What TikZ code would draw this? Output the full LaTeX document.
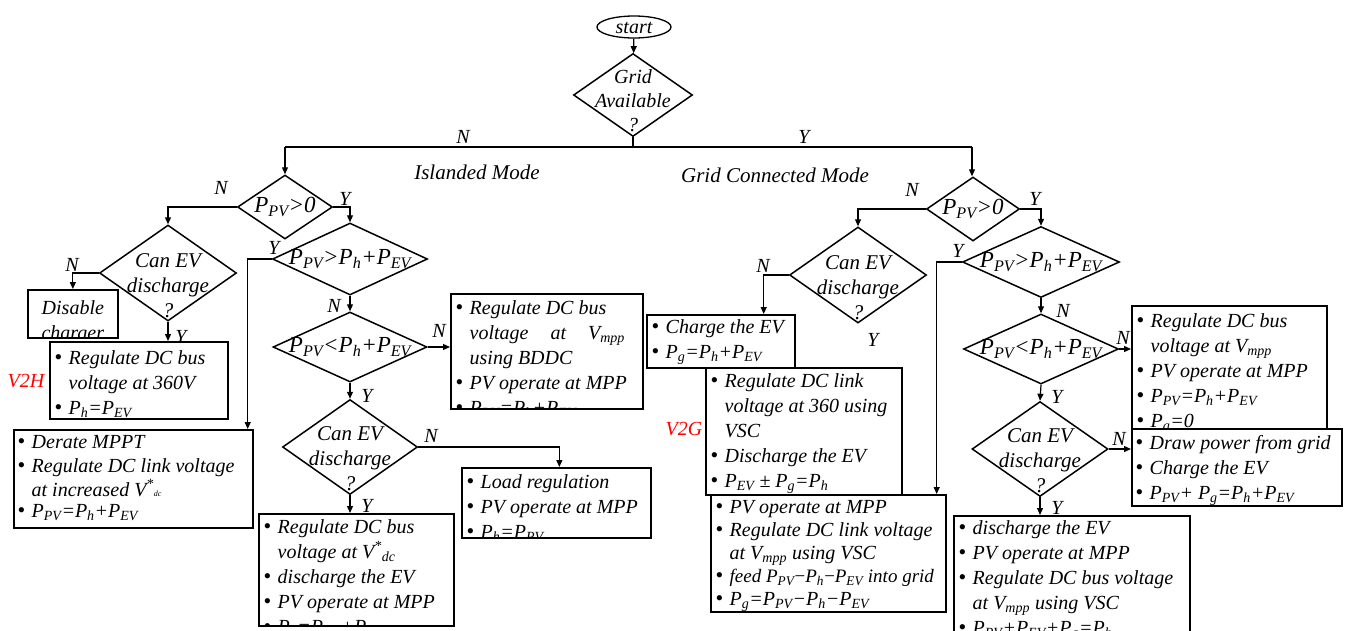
\documentclass[tikz,border=0pt]{standalone}
\usepackage{fontspec}
\setmainfont{Liberation Serif}
\usetikzlibrary{arrows.meta,shapes.geometric}

\newcommand{\Pw}[1]{P\textsubscript{#1}}
\newcommand{\bu}{\makebox[14pt][l]{\upshape\fontsize{22}{25}\selectfont\textbullet}}
\newcommand{\ind}{\hspace*{14pt}}
\newcommand{\boxlines}[1]{\begin{tabular}{@{}l@{}}#1\end{tabular}}

\begin{document}
\begin{tikzpicture}[
        x=1pt,
        y=-1pt,
        every node/.style={
                font=\itshape\fontsize{20}{25}\selectfont
                },
        decision/.style={
                draw,
                diamond,
                line width=1.5pt,
                inner sep=0pt
                },
        cond/.style={
                inner sep=0pt,
                font=\itshape\fontsize{23}{25}\selectfont
                },
        question/.style={
                inner sep=0pt,
                align=center,
                font=\itshape\fontsize{21}{25}\selectfont
                },
        infobox/.style={
                draw,
                rectangle,
                line width=1.7pt,
                inner sep=0pt,
                anchor=north west
                },
        boxtext/.style={
                anchor=north west,
                minimum width=0pt,
                minimum height=0pt,
                inner xsep=4pt,
                inner ysep=2pt
                },
        flow/.style={
                -{Triangle[length=7pt,width=6pt]},
                line width=1.2pt
                },
        yn/.style={
                inner sep=0pt
                },
        mode/.style={
                inner sep=0pt,
                red
                }
        ]

\useasboundingbox (0,0) rectangle (1349,630);

%start and grid check
\node[
        draw,
        ellipse,
        line width=1.3pt,
        minimum width=74pt,
        minimum height=22pt,
        text height=13pt,
        text depth=0pt,
        inner sep=0pt
        ] (start) at (634,27) {start};
\node[
        decision,
        minimum width=119pt,
        minimum height=83pt
        ] (grid) at (633,95) {};
\node[
        question,
        font=\itshape\fontsize{20}{24}\selectfont
        ] (grid text) at ([yshift=-6pt]grid) {Grid\\Available\\?};

\draw[flow] (start) -- (grid);
\draw[line width=1.2pt] (grid.south) -- (grid.south |- 0,147) coordinate (split);
\draw[line width=2.4pt] (285,147) coordinate (splitL) -- (972,147) coordinate (splitR);

\node[yn] (top n) at (463,137) {N};
\node[yn] (top y) at (804,137) {Y};
\node[yn, font=\itshape\fontsize{21}{25}\selectfont] (islanded) at (477,172) {Islanded Mode};
\node[yn, font=\itshape\fontsize{21}{25}\selectfont] (connected) at (775,175) {Grid Connected Mode};

%islanded mode: decisions
\node[decision, minimum width=95pt, minimum height=64pt] (pvL) at (285,207) {};
\node[cond] (pvL text) at (pvL) {\Pw{PV}>0};
\node[decision, minimum width=155pt, minimum height=72pt] (gtL) at (350,259) {};
\node[cond] (gtL text) at (gtL) {\Pw{PV}>\Pw{h}+\Pw{EV}};
\node[decision, minimum width=137pt, minimum height=96pt] (canL) at (168,273) {};
\node[question] (canL text) at ([yshift=-13pt]canL) {Can EV\\discharge\\?};
\node[decision, minimum width=154pt, minimum height=70pt] (ltL) at (350,347) {};
\node[cond] (ltL text) at (ltL) {\Pw{PV}<\Pw{h}+\Pw{EV}};
\node[decision, minimum width=135pt, minimum height=95pt] (canL2) at (350,447) {};
\node[question] (canL2 text) at ([yshift=-12pt]canL2) {Can EV\\discharge\\?};

%islanded mode: actions
\node[
        infobox,
        minimum width=90pt,
        minimum height=48pt,
        path picture={
                \node[boxtext, anchor=north, inner ysep=6pt] (disable text)
                        at (path picture bounding box.north)
                        {\begin{tabular}{@{}c@{}}Disable\\charger\end{tabular}};
                }
        ] (disable) at (27,289) {};
\node[
        infobox,
        minimum width=178pt,
        minimum height=77pt,
        path picture={
                \node[boxtext, inner ysep=4pt] (v2h text) at (path picture bounding box.north west)
                        {\boxlines{\bu Regulate DC bus\\
                         \ind voltage at 360V\\
                         \bu \Pw{h}=\Pw{EV}}};
                }
        ] (v2h) at (49,341) {};
\node[
        infobox,
        minimum width=239pt,
        minimum height=98pt,
        path picture={
                \node[boxtext, inner xsep=3pt, inner ysep=1pt, font=\itshape\fontsize{20}{24}\selectfont] (derate text)
                        at (path picture bounding box.north west)
                        {\boxlines{\bu Derate MPPT\\
                         \bu Regulate DC link voltage\\
                         \ind at increased V\textsuperscript{*}{\footnotesize dc}\\[-3pt]
                         \bu \Pw{PV}=\Pw{h}+\Pw{EV}}};
                }
        ] (derate) at (13,429) {};
\node[
        infobox,
        minimum width=192pt,
        minimum height=115pt,
        path picture={
                \node[boxtext, inner ysep=2pt] (bddc text) at (path picture bounding box.north west)
                        {\boxlines{\bu Regulate DC bus\\
                         \ind voltage\hspace{22pt}at\hspace{22pt}V\textsubscript{mpp}\\
                         \ind using BDDC\\
                         \bu PV operate at MPP\\
                         \bu \Pw{PV}=\Pw{h}+\Pw{EV}}};
                }
        ] (bddc) at (450,293) {};
\node[
        infobox,
        minimum width=189pt,
        minimum height=70pt,
        path picture={
                \node[boxtext, inner ysep=2.5pt] (loadreg text) at (path picture bounding box.north west)
                        {\boxlines{\bu Load regulation\\
                         \bu PV operate at MPP\\
                         \bu \Pw{h}=\Pw{PV}}};
                }
        ] (loadreg) at (461,467) {};
\node[
        infobox,
        minimum width=195pt,
        minimum height=112pt,
        path picture={
                \node[boxtext, inner ysep=1pt] (dischL text) at (path picture bounding box.north west)
                        {\boxlines{\bu Regulate DC bus\\
                         \ind voltage at V\textsuperscript{*}\textsubscript{dc}\\
                         \bu discharge the EV\\
                         \bu PV operate at MPP\\
                         \bu \Pw{h}=\Pw{PV}+\Pw{EV}}};
                }
        ] (dischL) at (258,513) {};

\node[mode] (v2h label) at (26,381) {V2H};

%islanded mode: connectors
\draw[flow] (splitL) -- (pvL);
\draw[flow] (pvL.west) -| (canL.north);
\draw[flow] (pvL.east) -| (gtL.north);
\draw[flow] (gtL.west) -| ([xshift=-6pt]derate.north east);
\draw[flow] (canL.west) -| (disable.north);
\draw[flow] (canL.south) -- (canL.south |- v2h.north);
\draw[flow] (gtL.south) -- (ltL.north);
\draw[flow] (ltL.east) -- (ltL.east -| bddc.west);
\draw[flow] (ltL.south) -- (canL2.north);
\draw[flow] (canL2.east) -| ([xshift=3pt]loadreg.north);
\draw[flow] (canL2.south) -- (canL2.south |- dischL.north);

\node[yn] (pvL n) at (221,188) {N};
\node[yn] (pvL y) at (345,199) {Y};
\node[yn] (gtL y) at (274,248) {Y};
\node[yn] (gtL n) at (334,306) {N};
\node[yn] (canL n) at (72,265) {N};
\node[yn] (canL y) at (181,337) {Y};
\node[yn] (ltL n) at (439,331) {N};
\node[yn] (ltL y) at (367,396) {Y};
\node[yn] (canL2 n) at (431,436) {N};
\node[yn] (canL2 y) at (367,506) {Y};

%grid connected mode: decisions
\node[decision, minimum width=93pt, minimum height=64pt] (pvR) at (973,209) {};
\node[cond] (pvR text) at (pvR) {\Pw{PV}>0};
\node[decision, minimum width=157pt, minimum height=71pt] (gtR) at (1041,262) {};
\node[cond] (gtR text) at (gtR) {\Pw{PV}>\Pw{h}+\Pw{EV}};
\node[decision, minimum width=137pt, minimum height=96pt] (canR) at (858,275) {};
\node[question] (canR text) at ([yshift=-13pt]canR) {Can EV\\discharge\\?};
\node[decision, minimum width=155pt, minimum height=70pt] (ltR) at (1041,349) {};
\node[cond] (ltR text) at (ltR) {\Pw{PV}<\Pw{h}+\Pw{EV}};
\node[decision, minimum width=136pt, minimum height=95pt] (canR2) at (1040,449) {};
\node[question] (canR2 text) at ([yshift=-12pt]canR2) {Can EV\\discharge\\?};

%grid connected mode: actions
\node[
        infobox,
        minimum width=148pt,
        minimum height=53pt,
        path picture={
                \node[boxtext, inner ysep=0.5pt] (charge text) at (path picture bounding box.north west)
                        {\boxlines{\bu Charge the EV\\
                         \bu \Pw{g}=\Pw{h}+\Pw{EV}}};
                }
        ] (charge) at (646,314) {};
\node[
        infobox,
        minimum width=196pt,
        minimum height=127pt,
        path picture={
                \node[boxtext, inner ysep=1.5pt] (v2g text) at (path picture bounding box.north west)
                        {\boxlines{\bu Regulate DC link\\
                         \ind voltage at 360 using\\
                         \ind VSC\\
                         \bu Discharge the EV\\
                         \bu \Pw{EV} ± \Pw{g}=\Pw{h}}};
                }
        ] (v2g) at (705,367) {};
\node[
        infobox,
        minimum width=235pt,
        minimum height=117pt,
        path picture={
                \node[boxtext, inner ysep=1.5pt, font=\itshape\fontsize{20}{23}\selectfont] (feed text)
                        at (path picture bounding box.north west)
                        {\boxlines{\bu PV operate at MPP\\
                         \bu Regulate DC link voltage\\
                         \ind at V\textsubscript{mpp} using VSC\\
                         \bu {\fontsize{19}{23}\selectfont feed \Pw{PV}\kern-1pt−\kern-1pt\Pw{h}\kern-1pt−\kern-1pt\Pw{EV} into grid}\\
                         \bu \Pw{g}=\Pw{PV}−\Pw{h}−\Pw{EV}}};
                }
        ] (feed) at (710,494) {};
\node[
        infobox,
        minimum width=195pt,
        minimum height=123pt,
        path picture={
                \node[boxtext, inner ysep=3.5pt] (regR text) at (path picture bounding box.north west)
                        {\boxlines{\bu Regulate DC bus\\
                         \ind voltage at V\textsubscript{mpp}\\
                         \bu PV operate at MPP\\
                         \bu \Pw{PV}=\Pw{h}+\Pw{EV}\\
                         \bu \Pw{g}=0}};
                }
        ] (regR) at (1131,305) {};
\node[
        infobox,
        minimum width=210pt,
        minimum height=77pt,
        path picture={
                \node[boxtext, inner xsep=3pt, inner ysep=2.5pt] (drawgrid text) at (path picture bounding box.north west)
                        {\boxlines{\bu Draw power from grid\\
                         \bu Charge the EV\\
                         \bu \Pw{PV}+ \Pw{g}=\Pw{h}+\Pw{EV}}};
                }
        ] (drawgrid) at (1131,428) {};
\node[
        infobox,
        minimum width=236pt,
        minimum height=130pt,
        path picture={
                \node[boxtext, inner ysep=0.5pt] (dischR text) at (path picture bounding box.north west)
                        {\boxlines{\bu discharge the EV\\
                         \bu PV operate at MPP\\
                         \bu Regulate DC bus voltage\\
                         \ind at V\textsubscript{mpp} using VSC\\
                         \bu \Pw{PV}+\Pw{EV}+\Pw{g}=\Pw{h}}};
                }
        ] (dischR) at (953,515) {};

\node[mode] (v2g label) at (684,429) {V2G};

%grid connected mode: connectors
\draw[flow] (splitR) -- (splitR |- pvR.north);
\draw[flow] (pvR.west) -| (canR.north);
\draw[flow] (pvR.east) -| (gtR.north);
\draw[flow] (gtR.west) -| ([xshift=-10pt]feed.north east);
\draw[flow] (canR.west) -| ([xshift=-32pt]charge.north east);
\draw[flow] (gtR.south) -- (ltR.north);
\draw[flow] (ltR.east) -- (ltR.east -| regR.west);
\draw[flow] (ltR.south) -- (canR2.north);
\draw[flow] (canR2.east) -- (canR2.east -| drawgrid.west);
\draw[flow] (canR2.south) -- (canR2.south |- dischR.north);

\node[yn] (pvR n) at (912,190) {N};
\node[yn] (pvR y) at (1035,199) {Y};
\node[yn] (canR n) at (763,266) {N};
\node[yn] (canR y) at (873,340) {Y};
\node[yn] (gtR y) at (958,251) {Y};
\node[yn] (gtR n) at (1063,311) {N};
\node[yn] (ltR n) at (1123,338) {N};
\node[yn] (ltR y) at (1057,397) {Y};
\node[yn] (canR2 n) at (1119,439) {N};
\node[yn] (canR2 y) at (1057,508) {Y};
\end{tikzpicture}
\end{document}
